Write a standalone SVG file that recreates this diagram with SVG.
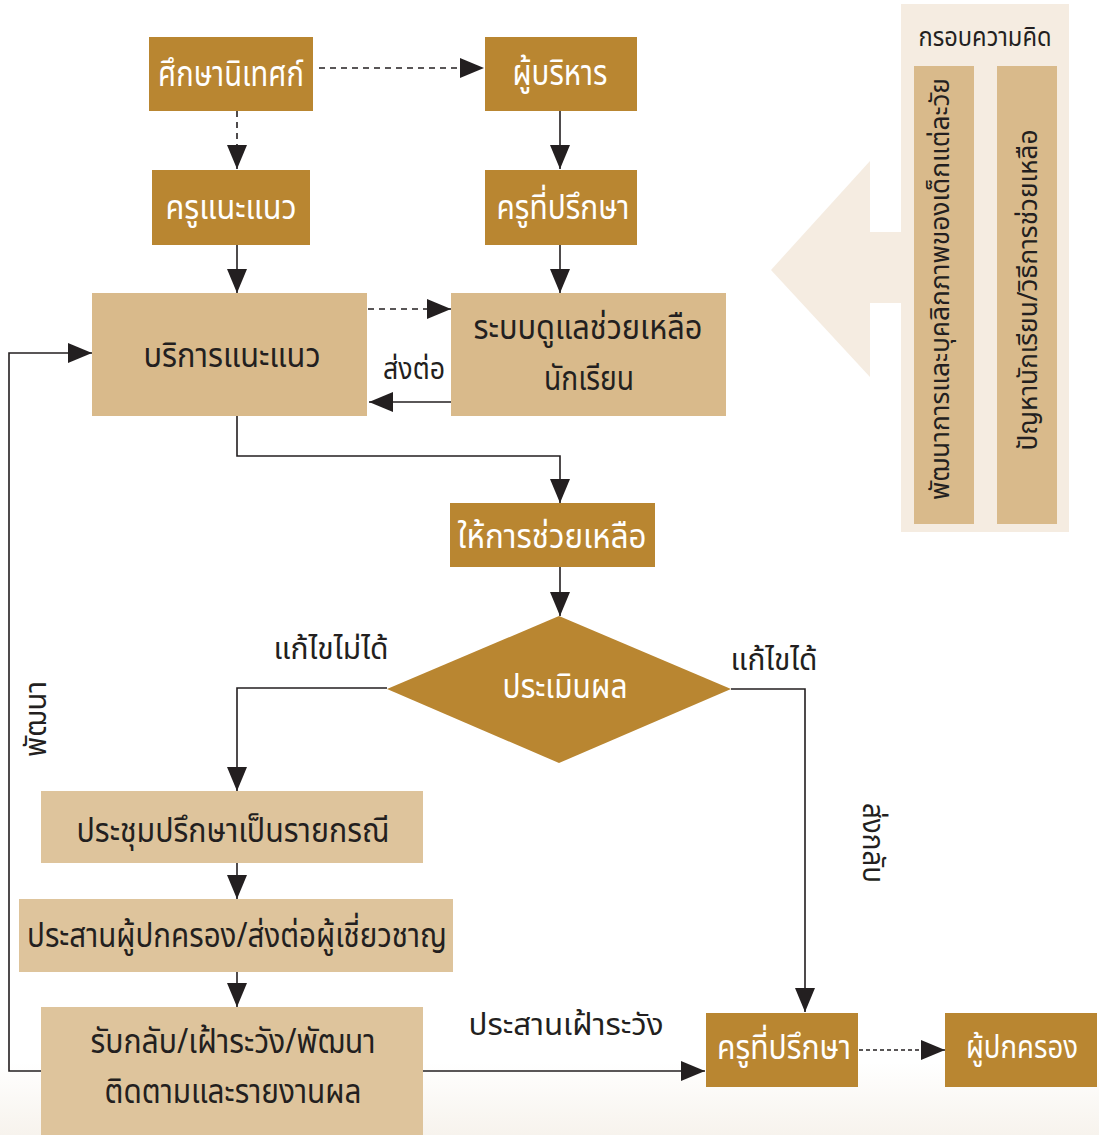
<svg xmlns="http://www.w3.org/2000/svg" width="1099" height="1135" viewBox="0 0 1099 1135">
<defs>
<linearGradient id="bg" x1="0" y1="0" x2="0" y2="1">
<stop offset="0" stop-color="#ffffff"/>
<stop offset="1" stop-color="#f7f3ed"/>
</linearGradient>
<marker id="ah" markerWidth="24" markerHeight="20" refX="24" refY="10" orient="auto" markerUnits="userSpaceOnUse">
<path d="M0,0 L24,10 L0,20 Z" fill="#231f20"/>
</marker>
</defs>
<style>
.dark{fill:#b98631}
.light{fill:#d9ba8b}
.light2{fill:#dec49c}
.panel{fill:#f5ece1}
text{font-family:'Noto Sans','Noto Sans Thai',sans-serif;font-size:34px;text-anchor:middle}
.w{fill:#ffffff}
.k{fill:#231f20}
.big{font-size:36px}
.sm{font-size:32px}
.lbl{font-size:31px}
.fw{font-size:27px}
.ln{fill:none;stroke:#231f20;stroke-width:1.6}
.dash{stroke-dasharray:6 5}
.dash2{stroke-dasharray:4 3}
</style>
<rect x="0" y="0" width="1099" height="1135" fill="#ffffff"/>
<rect x="0" y="1062" width="1099" height="73" fill="url(#bg)"/>

<g id="framework">
<polygon class="panel" points="771,270 870,161 870,232 902,232 902,303 870,303 870,377"/>
<rect class="panel" x="901" y="4" width="168" height="528"/>
<text class="k fw" x="985" y="46" textLength="133" lengthAdjust="spacingAndGlyphs">กรอบความคิด</text>
<rect class="light" x="914" y="66" width="60" height="458"/>
<rect class="light" x="997" y="66" width="60" height="458"/>
<text class="k fw" transform="translate(949,289) rotate(-90)" textLength="422" lengthAdjust="spacingAndGlyphs">พัฒนาการและบุคลิกภาพของเด็กแต่ละวัย</text>
<text class="k fw" transform="translate(1037,290) rotate(-90)" textLength="321" lengthAdjust="spacingAndGlyphs">ปัญหานักเรียน/วิธีการช่วยเหลือ</text>
</g>

<g id="connectors">
<line class="ln dash" x1="319" y1="68" x2="484" y2="68" marker-end="url(#ah)"/>
<line class="ln dash" x1="237" y1="111" x2="237" y2="169" marker-end="url(#ah)"/>
<line class="ln" x1="560" y1="111" x2="560" y2="169" marker-end="url(#ah)"/>
<line class="ln" x1="237" y1="245" x2="237" y2="293" marker-end="url(#ah)"/>
<line class="ln" x1="560" y1="245" x2="560" y2="293" marker-end="url(#ah)"/>
<line class="ln dash" x1="368" y1="309" x2="451" y2="309" marker-end="url(#ah)"/>
<line class="ln" x1="451" y1="402" x2="369" y2="402" marker-end="url(#ah)"/>
<polyline class="ln" points="237,416 237,456 560,456 560,503" marker-end="url(#ah)"/>
<line class="ln" x1="560" y1="567" x2="560" y2="616" marker-end="url(#ah)"/>
<polyline class="ln" points="387,688 237,688 237,791" marker-end="url(#ah)"/>
<polyline class="ln" points="731,689 805,689 805,1012" marker-end="url(#ah)"/>
<line class="ln" x1="237" y1="863" x2="237" y2="899" marker-end="url(#ah)"/>
<line class="ln" x1="237" y1="972" x2="237" y2="1007" marker-end="url(#ah)"/>
<polyline class="ln" points="41,1071 9,1071 9,353 92,353" marker-end="url(#ah)"/>
<line class="ln" x1="423" y1="1071" x2="705" y2="1071" marker-end="url(#ah)"/>
<line class="ln dash2" x1="859" y1="1050" x2="945" y2="1050" marker-end="url(#ah)"/>
<text class="k lbl" x="414" y="379" textLength="62" lengthAdjust="spacingAndGlyphs">ส่งต่อ</text>
<text class="k lbl" x="331" y="659" textLength="115" lengthAdjust="spacingAndGlyphs">แก้ไขไม่ได้</text>
<text class="k lbl" x="774" y="670" textLength="87" lengthAdjust="spacingAndGlyphs">แก้ไขได้</text>
<text class="k lbl" x="566" y="1035" textLength="195" lengthAdjust="spacingAndGlyphs">ประสานเฝ้าระวัง</text>
<text class="k lbl" transform="translate(46,719) rotate(-90)" textLength="76" lengthAdjust="spacingAndGlyphs">พัฒนา</text>
<text class="k lbl" transform="translate(863,843) rotate(90)" textLength="80" lengthAdjust="spacingAndGlyphs">ส่งกลับ</text>
</g>

<g id="n_supervisor">
<rect class="dark" x="149" y="37" width="164" height="74"/>
<text class="w big" x="231" y="86" textLength="146" lengthAdjust="spacingAndGlyphs">ศึกษานิเทศก์</text>
</g>
<g id="n_admin">
<rect class="dark" x="485" y="37" width="152" height="74"/>
<text class="w big" x="560" y="85" textLength="95" lengthAdjust="spacingAndGlyphs">ผู้บริหาร</text>
</g>
<g id="n_counselor">
<rect class="dark" x="152" y="170" width="158" height="75"/>
<text class="w" x="231" y="219" textLength="131" lengthAdjust="spacingAndGlyphs">ครูแนะแนว</text>
</g>
<g id="n_advisor">
<rect class="dark" x="485" y="170" width="152" height="75"/>
<text class="w" x="563" y="219" textLength="133" lengthAdjust="spacingAndGlyphs">ครูที่ปรึกษา</text>
</g>
<g id="n_guidance">
<rect class="light" x="92" y="293" width="275" height="123"/>
<text class="k" x="232" y="367" textLength="177" lengthAdjust="spacingAndGlyphs">บริการแนะแนว</text>
</g>
<g id="n_support">
<rect class="light" x="451" y="293" width="275" height="123"/>
<text class="k" x="588" y="339" textLength="229" lengthAdjust="spacingAndGlyphs">ระบบดูแลช่วยเหลือ</text>
<text class="k" x="589" y="390" textLength="90" lengthAdjust="spacingAndGlyphs">นักเรียน</text>
</g>
<g id="n_help">
<rect class="dark" x="450" y="503" width="205" height="64"/>
<text class="w" x="552" y="548" textLength="189" lengthAdjust="spacingAndGlyphs">ให้การช่วยเหลือ</text>
</g>
<g id="n_evaluate">
<polygon class="dark" points="559,616 731,689 559,763 387,689"/>
<text class="w" x="565" y="698" textLength="125" lengthAdjust="spacingAndGlyphs">ประเมินผล</text>
</g>
<g id="n_case">
<rect class="light2" x="41" y="791" width="382" height="72"/>
<text class="k" x="233" y="842" textLength="313" lengthAdjust="spacingAndGlyphs">ประชุมปรึกษาเป็นรายกรณี</text>
</g>
<g id="n_coordinate">
<rect class="light2" x="19" y="899" width="434" height="73"/>
<text class="k" x="237" y="947" textLength="420" lengthAdjust="spacingAndGlyphs">ประสานผู้ปกครอง/ส่งต่อผู้เชี่ยวชาญ</text>
</g>
<g id="n_followup">
<rect class="light2" x="41" y="1007" width="382" height="128"/>
<text class="k" x="233" y="1053" textLength="285" lengthAdjust="spacingAndGlyphs">รับกลับ/เฝ้าระวัง/พัฒนา</text>
<text class="k" x="233" y="1103" textLength="257" lengthAdjust="spacingAndGlyphs">ติดตามและรายงานผล</text>
</g>
<g id="n_advisor2">
<rect class="dark" x="706" y="1013" width="152" height="74"/>
<text class="w" x="784" y="1059" textLength="134" lengthAdjust="spacingAndGlyphs">ครูที่ปรึกษา</text>
</g>
<g id="n_parent">
<rect class="dark" x="945" y="1013" width="152" height="74"/>
<text class="w sm" x="1022" y="1058" textLength="112" lengthAdjust="spacingAndGlyphs">ผู้ปกครอง</text>
</g>
</svg>
